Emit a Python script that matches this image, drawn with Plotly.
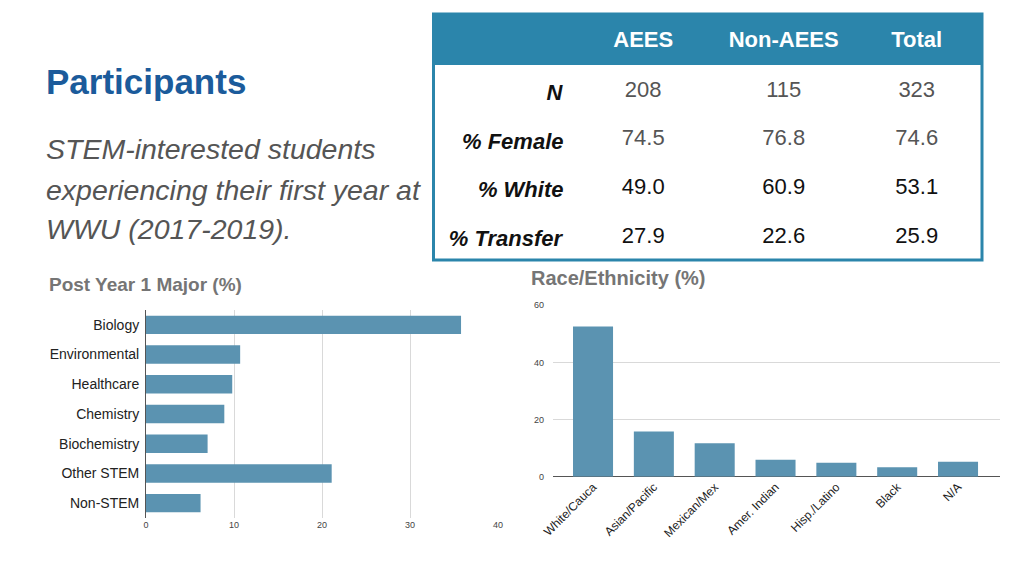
import plotly.graph_objects as go

# ---- data ----
major_cats = ["Biology", "Environmental", "Healthcare", "Chemistry", "Biochemistry", "Other STEM", "Non-STEM"]
major_vals = [35.8, 10.7, 9.8, 8.9, 7.0, 21.1, 6.2]

race_cats = ["White/Cauca", "Asian/Pacific", "Mexican/Mex", "Amer. Indian", "Hisp./Latino", "Black", "N/A"]
race_vals = [52.6, 15.8, 11.7, 5.9, 4.9, 3.3, 5.2]

table_cols = ["", "AEES", "Non-AEES", "Total"]
row_labels = ["N", "% Female", "% White", "% Transfer"]
aees = ["208", "74.5", "49.0", "27.9"]
non_aees = ["115", "76.8", "60.9", "22.6"]
total = ["323", "74.6", "53.1", "25.9"]

# page body has an 8px margin, so the figure is 1016x568 and coordinates
# below are given in screen pixels of the 1024x576 window
OFF = 8
W, H = 1016, 568
BAR = "#5b93b1"
TEAL = "#2b85ab"
FONT = "Liberation Sans, Arial, sans-serif"

def fx(px):
    return (px - OFF) / W

def fy(py):
    return 1 - (py - OFF) / H

fig = go.Figure()

# ---- table ----
HDR_TOP = 19
HDR_H = 53
ROW_H = 48.7
TABLE_BOTTOM = HDR_TOP + HDR_H + 4 * ROW_H + 4
val_colors = ["#555555", "#555555", "#111111", "#111111"]
fig.add_trace(go.Table(
    domain=dict(x=[fx(433), fx(982)], y=[fy(TABLE_BOTTOM), fy(HDR_TOP)]),
    columnwidth=[139, 144, 138, 129],
    header=dict(
        values=["<b>%s</b>" % c for c in table_cols],
        fill_color=TEAL,
        line=dict(width=1, color=TEAL),
        align=["right", "center", "center", "center"],
        font=dict(family=FONT, size=22, color="white"),
        height=HDR_H,
    ),
    cells=dict(
        values=[["<b><i>%s</i></b>" % r for r in row_labels], aees, non_aees, total],
        fill_color="white",
        line=dict(width=1, color="white"),
        align=["right", "center", "center", "center"],
        font=dict(family=FONT, size=22,
                  color=[["#111111"] * 4, val_colors, val_colors, val_colors]),
        height=ROW_H,
    ),
))

# ---- left horizontal bar chart ----
fig.add_trace(go.Bar(
    x=major_vals, y=major_cats, orientation="h",
    marker=dict(color=BAR, line=dict(width=0)),
    xaxis="x", yaxis="y", showlegend=False, hoverinfo="x+y",
))

# ---- right vertical bar chart ----
fig.add_trace(go.Bar(
    x=race_cats, y=race_vals, width=0.658,
    marker=dict(color=BAR, line=dict(width=0)),
    xaxis="x2", yaxis="y2", showlegend=False, hoverinfo="x+y",
))

fig.update_layout(
    template="none",
    width=W, height=H,
    margin=dict(l=0, r=0, t=0, b=0, pad=0, autoexpand=False),
    paper_bgcolor="white", plot_bgcolor="white",
    font=dict(family=FONT),
    bargap=0.38,
    xaxis=dict(
        domain=[fx(146), fx(498)], anchor="y", range=[0, 40], automargin=False,
        tickvals=[0, 10, 20, 30, 40], showgrid=True, gridcolor="#d9d9d9", gridwidth=1,
        zeroline=False, showline=False, ticks="",
        tickfont=dict(size=9, color="#444444"),
    ),
    yaxis=dict(
        domain=[fy(518), fy(310)], anchor="x", automargin=False,
        categoryorder="array", categoryarray=major_cats, autorange="reversed",
        showgrid=False, zeroline=False, showline=True, linecolor="#555555", linewidth=1,
        ticks="", ticklabelstandoff=3,
        tickfont=dict(size=14, color="#222222"),
    ),
    xaxis2=dict(
        domain=[fx(553), fx(1000)], anchor="y2", automargin=False,
        range=[-0.658, 6.69],
        showgrid=False, zeroline=False, showline=False, ticks="",
        tickangle=-45, tickfont=dict(size=12, color="#222222"),
    ),
    yaxis2=dict(
        domain=[fy(476.7), fy(305.3)], anchor="x2", range=[0, 60], automargin=False,
        tickvals=[0, 20, 40, 60], showgrid=True, gridcolor="#d9d9d9", gridwidth=1,
        zeroline=True, zerolinecolor="#555555", zerolinewidth=1, showline=False, ticks="",
        tickfont=dict(size=9, color="#444444"), ticklabelstandoff=8,
    ),
    shapes=[
        # teal cap above the header text area
        dict(type="rect", xref="paper", yref="paper",
             x0=fx(433), x1=fx(982), y0=fy(HDR_TOP + 1), y1=fy(13),
             line=dict(width=0), fillcolor=TEAL, layer="above"),
        # white band so the header ends where the reference header ends
        dict(type="rect", xref="paper", yref="paper",
             x0=fx(434), x1=fx(981), y0=fy(HDR_TOP + HDR_H + 3), y1=fy(65),
             line=dict(width=0), fillcolor="white", layer="above"),
        # white cover below the visible table box
        dict(type="rect", xref="paper", yref="paper",
             x0=fx(430), x1=fx(986), y0=fy(TABLE_BOTTOM + 2), y1=fy(262),
             line=dict(width=0), fillcolor="white", layer="above"),
        # outer border
        dict(type="rect", xref="paper", yref="paper",
             x0=fx(433.5), x1=fx(982), y0=fy(260), y1=fy(14),
             line=dict(color=TEAL, width=3), fillcolor="rgba(0,0,0,0)", layer="above"),
    ],
    annotations=[
        dict(text="<b>Participants</b>", x=fx(44), y=fy(82), xref="paper", yref="paper",
             xanchor="left", yanchor="middle", showarrow=False,
             font=dict(size=35, color="#1b5b9b", family=FONT)),
        dict(text="<i>STEM-interested students</i>", x=fx(44), y=fy(149), xref="paper", yref="paper",
             xanchor="left", yanchor="middle", showarrow=False,
             font=dict(size=28.5, color="#555555", family=FONT)),
        dict(text="<i>experiencing their first year at</i>", x=fx(44), y=fy(190), xref="paper", yref="paper",
             xanchor="left", yanchor="middle", showarrow=False,
             font=dict(size=28.5, color="#555555", family=FONT)),
        dict(text="<i>WWU (2017-2019).</i>", x=fx(44), y=fy(229), xref="paper", yref="paper",
             xanchor="left", yanchor="middle", showarrow=False,
             font=dict(size=28.5, color="#555555", family=FONT)),
        dict(text="<b>Post Year 1 Major (%)</b>", x=fx(47), y=fy(284), xref="paper", yref="paper",
             xanchor="left", yanchor="middle", showarrow=False,
             font=dict(size=19, color="#757575", family=FONT)),
        dict(text="<b>Race/Ethnicity (%)</b>", x=fx(529), y=fy(278), xref="paper", yref="paper",
             xanchor="left", yanchor="middle", showarrow=False,
             font=dict(size=20, color="#757575", family=FONT)),
    ],
)

fig.write_html("out.html")
